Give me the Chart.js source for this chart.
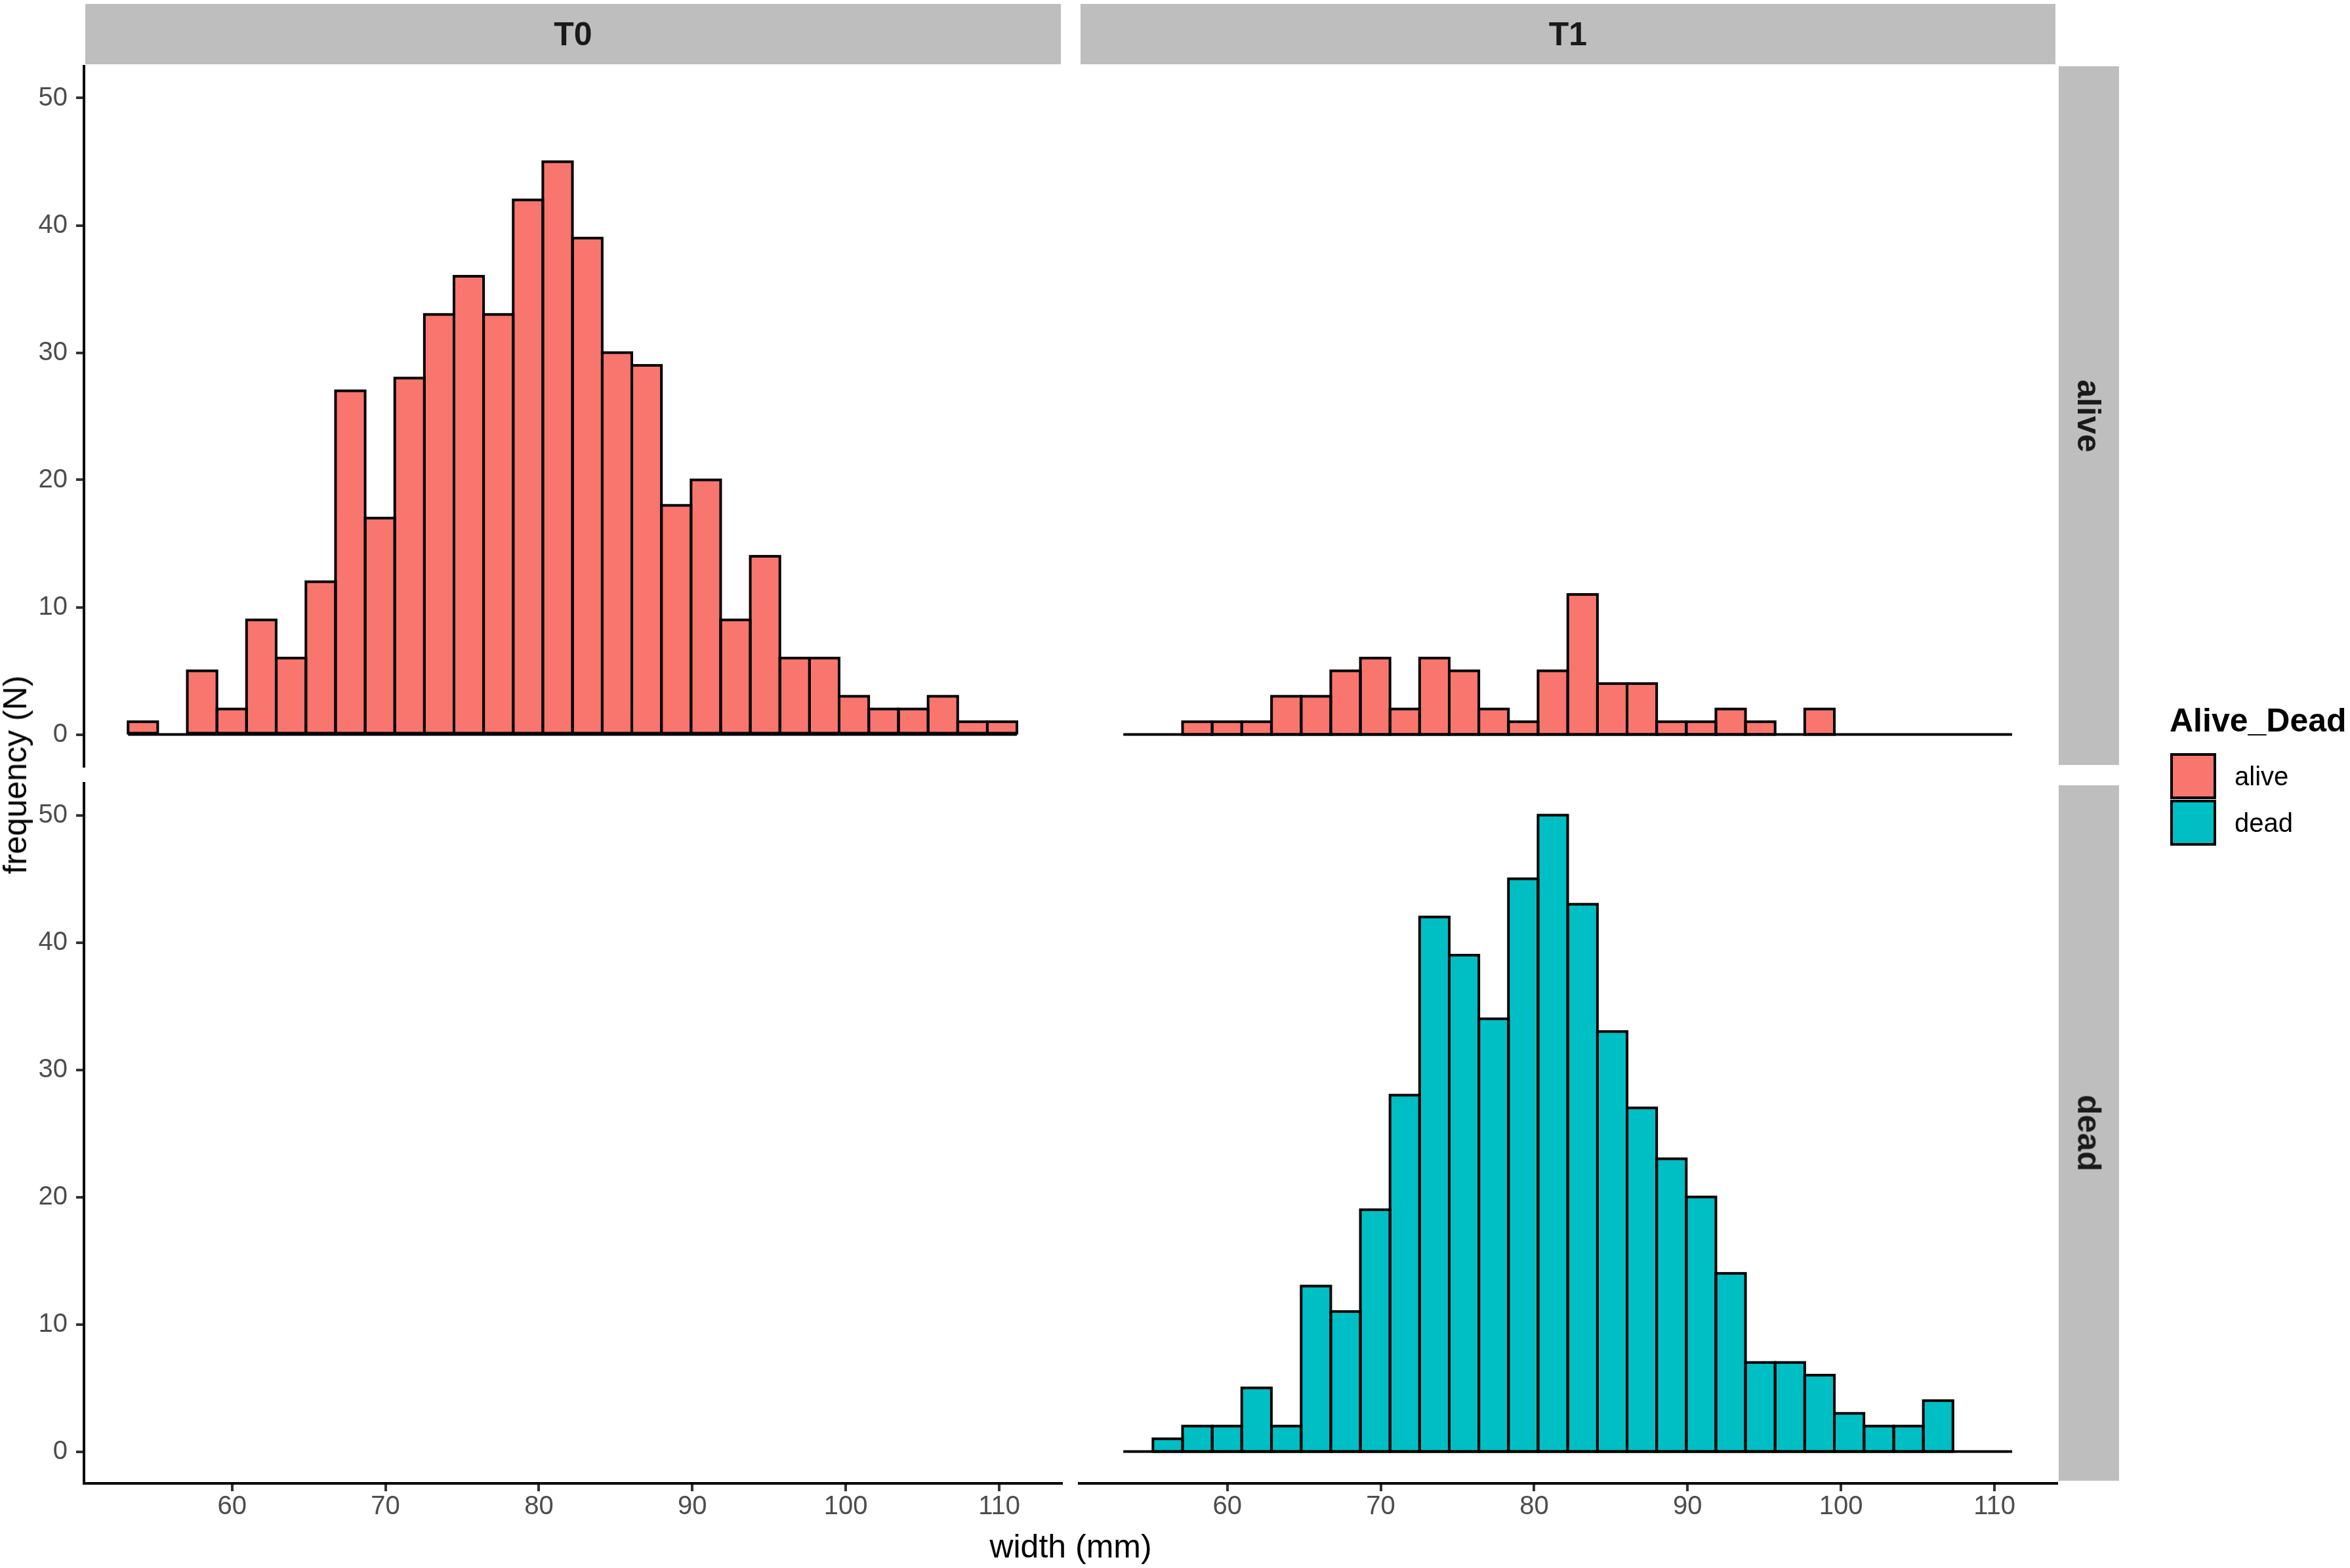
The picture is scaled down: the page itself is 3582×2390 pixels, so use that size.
<!DOCTYPE html>
<html>
<head>
<meta charset="utf-8">
<script src="https://cdn.jsdelivr.net/npm/chart.js@4.4.1/dist/chart.umd.min.js"></script>
<style>
html,body{margin:0;padding:0;background:#fff;}
#page{position:relative;width:3582px;height:2390px;overflow:hidden;background:#fff;font-family:"Liberation Sans",Arial,sans-serif;}
#page canvas{position:absolute;left:0;top:0;}
.strip{position:absolute;background:#BEBEBE;display:flex;align-items:center;justify-content:center;}
.strip span{font-weight:bold;font-size:50px;line-height:1;color:#1A1A1A;white-space:nowrap;display:block;}
.strip.rot span{transform:rotate(90deg);}
.lbl{position:absolute;line-height:1;white-space:nowrap;color:#000;}
.key{position:absolute;width:70px;height:70px;box-sizing:border-box;border:4px solid #000;}
</style>
</head>
<body>
<div id="page">
  <div class="strip" style="left:130px;top:6px;width:1487px;height:92px;"><span>T0</span></div>
  <div class="strip" style="left:1647px;top:6px;width:1486px;height:92px;"><span>T1</span></div>
  <div class="strip rot" style="left:3138px;top:101px;width:92px;height:1065px;"><span>alive</span></div>
  <div class="strip rot" style="left:3138px;top:1197px;width:92px;height:1060px;"><span>dead</span></div>

  <div class="lbl" style="left:23px;top:1181px;font-size:50px;transform:translate(-50%,-50%) rotate(-90deg);">frequency (N)</div>
  <div class="lbl" style="left:1632px;top:2357px;font-size:50px;transform:translate(-50%,-50%);">width (mm)</div>

  <div class="lbl" style="left:3307px;top:1073px;font-size:50px;font-weight:bold;">Alive_Dead</div>
  <div class="key" style="left:3308px;top:1148px;background:#F8766D;"></div>
  <div class="key" style="left:3308px;top:1219px;background:#00BFC4;"></div>
  <div class="lbl" style="left:3406px;top:1163px;font-size:40px;">alive</div>
  <div class="lbl" style="left:3406px;top:1234px;font-size:40px;">dead</div>
</div>
<script>
// ---- data ----
const binCenters = [54.19, 56.12, 58.05, 59.98, 61.91, 63.85, 65.78, 67.71, 69.64, 71.57,
                    73.50, 75.43, 77.36, 79.29, 81.22, 83.16, 85.09, 87.02, 88.95, 90.88,
                    92.81, 94.74, 96.67, 98.60, 100.53, 102.47, 104.40, 106.33, 108.26, 110.19];
const countsT0Alive = [1, 0, 5, 2, 9, 6, 12, 27, 17, 28, 33, 36, 33, 42, 45, 39, 30, 29, 18, 20, 9, 14, 6, 6, 3, 2, 2, 3, 1, 1];
const countsT0Dead = [];
const countsT1Alive = [0, 0, 1, 1, 1, 3, 3, 5, 6, 2, 6, 5, 2, 1, 5, 11, 4, 4, 1, 1, 2, 1, 0, 2, 0, 0, 0, 0, 0, 0];
const countsT1Dead = [0, 1, 2, 2, 5, 2, 13, 11, 19, 28, 42, 39, 34, 45, 50, 43, 33, 27, 23, 20, 14, 7, 7, 6, 3, 2, 2, 4, 0, 0];
const timeLabels = ['T0', 'T1'];
const groupLabels = ['alive', 'dead'];
const xTicks = [60, 70, 80, 90, 100, 110];
const yTicks = [0, 10, 20, 30, 40, 50];
const xMin = 50.35, xMax = 114.06;
const yMin = -2.5, yMax = 52.5;

// ---- styling / layout ----
const fillColors = { alive: '#F8766D', dead: '#00BFC4' };
const W = 3582, H = 2390;
const COLS = [{ left: 128, right: 1618 }, { left: 1645, right: 3135 }];
const ROWS = [{ top: 101, bottom: 1168 }, { top: 1194, bottom: 2261 }];
const Y_AXIS_W = 128, X_AXIS_H = 60;
const FONT = 'Liberation Sans';

const panels = [
  { time: timeLabels[0], group: groupLabels[0], counts: countsT0Alive, col: 0, row: 0 },
  { time: timeLabels[0], group: groupLabels[1], counts: countsT0Dead, col: 0, row: 1 },
  { time: timeLabels[1], group: groupLabels[0], counts: countsT1Alive, col: 1, row: 0 },
  { time: timeLabels[1], group: groupLabels[1], counts: countsT1Dead, col: 1, row: 1 }
];

const outlinePlugin = {
  id: 'histOutline',
  afterDatasetsDraw(chart) {
    const ctx = chart.ctx;
    const zeroY = chart.scales.y.getPixelForValue(0);
    chart.data.datasets.forEach((ds, di) => {
      const meta = chart.getDatasetMeta(di);
      if (!meta.data.length) return;
      ctx.save();
      ctx.strokeStyle = '#000';
      ctx.lineWidth = 4;
      ctx.lineJoin = 'miter';
      const first = meta.data[0].getProps(['x', 'width'], true);
      const last = meta.data[meta.data.length - 1].getProps(['x', 'width'], true);
      ctx.beginPath();
      ctx.moveTo(first.x - first.width / 2, zeroY);
      ctx.lineTo(last.x + last.width / 2, zeroY);
      ctx.stroke();
      meta.data.forEach((el, i) => {
        if (ds.data[i].y > 0) {
          const p = el.getProps(['x', 'y', 'base', 'width'], true);
          ctx.strokeRect(p.x - p.width / 2, p.y, p.width, p.base - p.y);
        }
      });
      ctx.restore();
    });
  }
};

function axisCommon(show, tickVals, padding) {
  const o = {
    display: show,
    offset: false,
    grid: { display: true, drawOnChartArea: false, drawTicks: true, tickLength: 12, lineWidth: 4, color: '#333333', offset: false },
    border: { display: true, color: '#000000', width: 4 },
    ticks: { autoSkip: false, maxRotation: 0, minRotation: 0, padding: padding, color: '#4D4D4D', font: { family: FONT, size: 40 } },
    afterBuildTicks: s => { s.ticks = tickVals.map(v => ({ value: v })); }
  };
  return o;
}

const page = document.getElementById('page');
panels.forEach(p => {
  const showY = p.col === 0;
  const showX = p.row === 1;
  const canvas = document.createElement('canvas');
  canvas.width = W; canvas.height = H;
  canvas.style.width = W + 'px'; canvas.style.height = H + 'px';
  page.insertBefore(canvas, page.firstChild);

  const xAxis = Object.assign(axisCommon(showX, xTicks, 0), { type: 'linear', min: xMin, max: xMax });
  if (showX) xAxis.afterFit = s => { s.height = X_AXIS_H; };
  const yAxis = Object.assign(axisCommon(showY, yTicks, 13), { type: 'linear', min: yMin, max: yMax });
  if (showY) yAxis.afterFit = s => { s.width = Y_AXIS_W; };

  const padding = {
    left: showY ? COLS[p.col].left - Y_AXIS_W : COLS[p.col].left,
    right: W - COLS[p.col].right,
    top: ROWS[p.row].top,
    bottom: H - ROWS[p.row].bottom - (showX ? X_AXIS_H : 0)
  };

  new Chart(canvas.getContext('2d'), {
    type: 'bar',
    data: {
      datasets: [{
        label: p.time + ' ' + p.group,
        data: p.counts.map((c, i) => ({ x: binCenters[i], y: c })),
        backgroundColor: fillColors[p.group],
        borderWidth: 0,
        inflateAmount: 0,
        categoryPercentage: 1.0,
        barPercentage: 1.0
      }]
    },
    options: {
      responsive: false,
      animation: false,
      devicePixelRatio: 1,
      events: [],
      layout: { padding: padding },
      plugins: { legend: { display: false }, tooltip: { enabled: false }, title: { display: false } },
      scales: { x: xAxis, y: yAxis }
    },
    plugins: [outlinePlugin]
  });
});
</script>
</body>
</html>
